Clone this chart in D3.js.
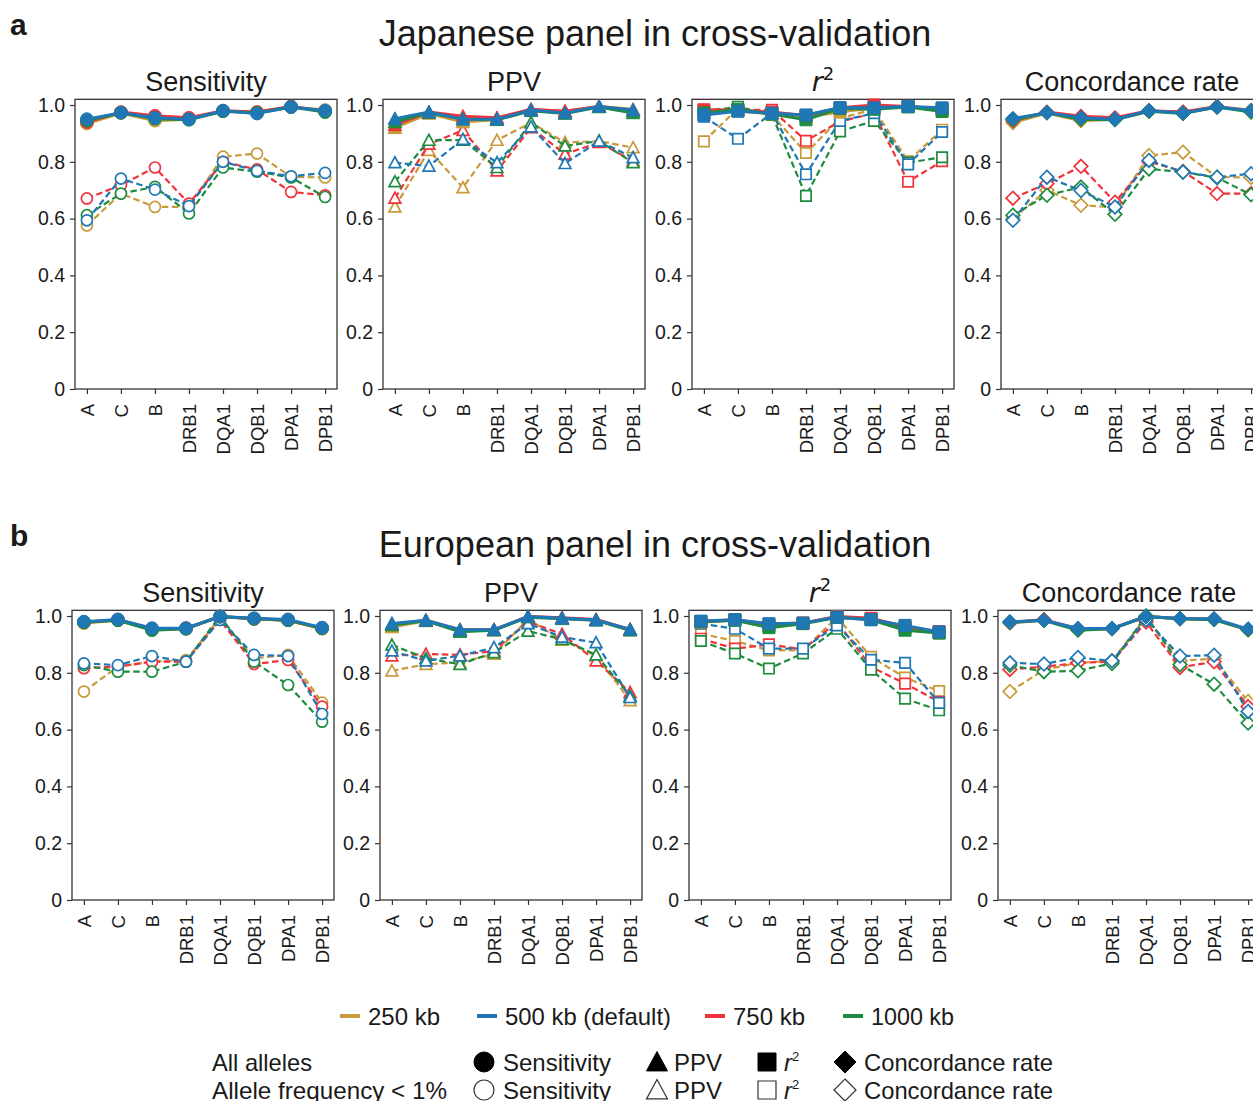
<!DOCTYPE html>
<html>
<head>
<meta charset="utf-8">
<script src="https://cdn.jsdelivr.net/npm/d3@7"></script>
<style>
  html, body { margin: 0; padding: 0; background: #fff; }
  svg { display: block; }
  text { font-family: "Liberation Sans", Arial, Helvetica, sans-serif; fill: #1a1a1a; }
</style>
</head>
<body>
<svg id="chart" width="1253" height="1101"></svg>
<script>
// ---- categories, series and labels ----
const categories = ["A", "C", "B", "DRB1", "DQA1", "DQB1", "DPA1", "DPB1"];
const windows = ["250 kb", "500 kb (default)", "750 kb", "1000 kb"];
const windowColors = ["#c99a3b", "#1f77b4", "#f2323a", "#1d8c3f"];
const yTickValues = [0, 0.2, 0.4, 0.6, 0.8, 1.0];
const metricNames = ["Sensitivity", "PPV", "r2", "Concordance rate"];
const sectionLetters = ["a", "b"];
const sectionTitles = ["Japanese panel in cross-validation", "European panel in cross-validation"];
const groupLabels = ["All alleles", "Allele frequency < 1%"];

// Each metric array: rows = 250 kb, 500 kb, 750 kb, 1000 kb; columns follow `categories`.
// Japanese panel, all alleles / alleles with frequency < 1%
const jpSensitivityAll = [
  [0.935, 0.972, 0.945, 0.950, 0.978, 0.975, 0.993, 0.982],
  [0.950, 0.973, 0.955, 0.950, 0.980, 0.970, 0.993, 0.980],
  [0.940, 0.975, 0.962, 0.955, 0.980, 0.975, 0.995, 0.978],
  [0.945, 0.973, 0.952, 0.948, 0.978, 0.972, 0.993, 0.975]];
const jpSensitivityRare = [
  [0.576, 0.688, 0.641, 0.641, 0.818, 0.829, 0.747, 0.745],
  [0.594, 0.741, 0.702, 0.644, 0.800, 0.768, 0.749, 0.761],
  [0.671, 0.718, 0.780, 0.653, 0.800, 0.773, 0.694, 0.682],
  [0.612, 0.688, 0.712, 0.618, 0.780, 0.765, 0.745, 0.676]];
const jpPpvAll = [
  [0.920, 0.970, 0.940, 0.948, 0.982, 0.978, 0.995, 0.985],
  [0.952, 0.975, 0.950, 0.950, 0.982, 0.972, 0.995, 0.982],
  [0.930, 0.975, 0.960, 0.955, 0.985, 0.978, 0.995, 0.980],
  [0.940, 0.973, 0.950, 0.948, 0.980, 0.970, 0.993, 0.972]];
const jpPpvRare = [
  [0.641, 0.840, 0.709, 0.876, 0.938, 0.868, 0.873, 0.850],
  [0.797, 0.785, 0.879, 0.797, 0.923, 0.794, 0.873, 0.815],
  [0.672, 0.862, 0.911, 0.768, 0.920, 0.827, 0.868, 0.803],
  [0.730, 0.876, 0.876, 0.780, 0.938, 0.856, 0.873, 0.797]];
const jpR2All = [
  [0.970, 0.980, 0.968, 0.958, 0.975, 0.990, 0.995, 0.985],
  [0.965, 0.978, 0.971, 0.965, 0.991, 0.990, 0.995, 0.990],
  [0.983, 0.982, 0.975, 0.962, 0.990, 1.000, 0.995, 0.985],
  [0.972, 0.985, 0.968, 0.948, 0.988, 0.985, 0.993, 0.977]];
const jpR2Rare = [
  [0.872, 0.988, 0.965, 0.831, 0.953, 0.985, 0.802, 0.913],
  [0.959, 0.881, 0.971, 0.756, 0.944, 0.971, 0.791, 0.905],
  [0.983, 0.983, 0.983, 0.874, 0.942, 0.971, 0.730, 0.802],
  [0.977, 0.994, 0.965, 0.680, 0.907, 0.944, 0.797, 0.816]];
const jpConcordanceAll = [
  [0.938, 0.972, 0.945, 0.950, 0.978, 0.975, 0.993, 0.982],
  [0.952, 0.973, 0.955, 0.950, 0.980, 0.972, 0.993, 0.980],
  [0.945, 0.975, 0.960, 0.955, 0.980, 0.975, 0.995, 0.978],
  [0.948, 0.973, 0.950, 0.948, 0.978, 0.970, 0.993, 0.975]];
const jpConcordanceRare = [
  [0.600, 0.700, 0.647, 0.640, 0.822, 0.834, 0.746, 0.745],
  [0.594, 0.746, 0.699, 0.641, 0.805, 0.764, 0.746, 0.758],
  [0.672, 0.723, 0.784, 0.658, 0.800, 0.766, 0.688, 0.688],
  [0.612, 0.682, 0.711, 0.615, 0.775, 0.764, 0.744, 0.684]];

// European panel
const euSensitivityAll = [
  [0.975, 0.985, 0.952, 0.955, 0.998, 0.990, 0.985, 0.955],
  [0.980, 0.988, 0.957, 0.957, 0.998, 0.992, 0.988, 0.959],
  [0.978, 0.987, 0.955, 0.957, 0.998, 0.990, 0.985, 0.957],
  [0.978, 0.985, 0.950, 0.955, 0.998, 0.990, 0.985, 0.957]];
const euSensitivityRare = [
  [0.734, 0.822, 0.839, 0.845, 0.992, 0.851, 0.863, 0.695],
  [0.833, 0.827, 0.859, 0.839, 0.986, 0.863, 0.859, 0.655],
  [0.816, 0.822, 0.839, 0.839, 0.986, 0.831, 0.845, 0.681],
  [0.827, 0.804, 0.804, 0.839, 1.000, 0.839, 0.757, 0.628]];
const euPpvAll = [
  [0.961, 0.983, 0.948, 0.950, 0.998, 0.992, 0.986, 0.950],
  [0.974, 0.985, 0.952, 0.952, 0.998, 0.992, 0.986, 0.953],
  [0.970, 0.985, 0.952, 0.952, 0.998, 0.994, 0.988, 0.953],
  [0.968, 0.983, 0.945, 0.950, 0.996, 0.990, 0.985, 0.950]];
const euPpvRare = [
  [0.807, 0.830, 0.836, 0.866, 0.988, 0.915, 0.860, 0.702],
  [0.877, 0.842, 0.860, 0.889, 0.973, 0.926, 0.906, 0.713],
  [0.860, 0.866, 0.863, 0.877, 0.980, 0.936, 0.842, 0.731],
  [0.898, 0.851, 0.830, 0.871, 0.947, 0.918, 0.863, 0.719]];
const euR2All = [
  [0.978, 0.985, 0.965, 0.975, 0.998, 0.990, 0.960, 0.940],
  [0.982, 0.987, 0.973, 0.975, 0.996, 0.987, 0.967, 0.944],
  [0.980, 0.987, 0.970, 0.975, 0.998, 0.992, 0.962, 0.945],
  [0.980, 0.985, 0.959, 0.973, 0.995, 0.987, 0.950, 0.940]];
const euR2Rare = [
  [0.938, 0.912, 0.879, 0.879, 0.996, 0.856, 0.783, 0.736],
  [0.973, 0.955, 0.885, 0.885, 0.967, 0.846, 0.835, 0.694],
  [0.920, 0.885, 0.900, 0.882, 0.979, 0.821, 0.762, 0.698],
  [0.912, 0.868, 0.815, 0.868, 0.955, 0.811, 0.709, 0.668]];
const euConcordanceAll = [
  [0.975, 0.985, 0.952, 0.955, 0.998, 0.990, 0.988, 0.950],
  [0.979, 0.985, 0.956, 0.956, 0.998, 0.991, 0.990, 0.954],
  [0.978, 0.987, 0.955, 0.956, 0.998, 0.991, 0.989, 0.953],
  [0.978, 0.985, 0.950, 0.955, 0.998, 0.990, 0.987, 0.952]];
const euConcordanceRare = [
  [0.734, 0.810, 0.835, 0.842, 0.996, 0.842, 0.850, 0.699],
  [0.835, 0.831, 0.854, 0.842, 0.987, 0.859, 0.862, 0.664],
  [0.812, 0.821, 0.835, 0.839, 0.979, 0.819, 0.839, 0.681],
  [0.827, 0.804, 0.807, 0.833, 1.000, 0.829, 0.760, 0.623]];

const sections = [
  { all: [jpSensitivityAll, jpPpvAll, jpR2All, jpConcordanceAll],
    rare: [jpSensitivityRare, jpPpvRare, jpR2Rare, jpConcordanceRare] },
  { all: [euSensitivityAll, euPpvAll, euR2All, euConcordanceAll],
    rare: [euSensitivityRare, euPpvRare, euR2Rare, euConcordanceRare] }
];

// ---- layout ----
const svg = d3.select("#chart");
const panelW = 262;
const unitH = 284;              // pixels per 1.0 on the y axis
const yMax = 1.02;
const rowLayout = [
  { bottom: 389, lefts: [75, 383, 692, 1001] },
  { bottom: 900, lefts: [72, 380, 689, 998] }
];
const seriesOrder = [0, 2, 3, 1];   // blue (default window) drawn last

// marker paths (size = half-width)
function markerPath(shape, s) {
  if (shape === 0) return d3.symbol(d3.symbolCircle, Math.PI * s * s)();
  if (shape === 1) return `M0,${-s}L${s},${s * 0.85}L${-s},${s * 0.85}Z`;
  if (shape === 2) return `M${-s},${-s}H${s}V${s}H${-s}Z`;
  return `M0,${-s}L${s},0L0,${s}L${-s},0Z`;
}
const filledSize = [6.4, 6.8, 6.0, 7.4];
const openSize = [5.5, 5.9, 5.2, 6.8];

sections.forEach((sec, si) => {
  const lay = rowLayout[si];
  const yOff = si * 511;
  const top = lay.bottom - yMax * unitH;

  svg.append("text")
    .attr("x", 10).attr("y", 35 + yOff)
    .attr("font-size", 30).attr("font-weight", "bold")
    .text(sectionLetters[si]);
  svg.append("text")
    .attr("x", 655).attr("y", 46 + yOff)
    .attr("text-anchor", "middle").attr("font-size", 36)
    .text(sectionTitles[si]);

  for (let m = 0; m < 4; m++) {
    const left = lay.lefts[m];
    const x = d3.scalePoint().domain(categories).range([left, left + panelW]).padding(0.35);
    const y = d3.scaleLinear().domain([0, yMax]).range([lay.bottom, top]);
    const g = svg.append("g");

    // panel title
    const t = g.append("text")
      .attr("x", left + panelW / 2).attr("y", top - 8)
      .attr("text-anchor", "middle").attr("font-size", 27);
    if (metricNames[m] === "r2") {
      t.append("tspan").attr("font-style", "italic").attr("font-family", "DejaVu Sans").attr("font-size", 27).text("r");
      t.append("tspan").attr("dy", -11).attr("font-size", 18).attr("font-family", "DejaVu Sans").text("2");
    } else {
      t.text(metricNames[m]);
    }

    // axes
    const yAxis = d3.axisLeft(y).tickValues(yTickValues).tickSize(5).tickPadding(5)
      .tickFormat(d => d === 0 ? "0" : d3.format(".1f")(d));
    const ya = g.append("g").attr("transform", `translate(${left},0)`).call(yAxis);
    ya.select(".domain").remove();
    ya.selectAll("text").attr("font-size", 19.5).attr("fill", "#1a1a1a")
      .attr("font-family", "Liberation Sans, Arial, sans-serif");
    ya.selectAll("line").attr("stroke", "#333").attr("stroke-width", 1.2);

    const xAxis = d3.axisBottom(x).tickSize(5).tickPadding(0);
    const xa = g.append("g").attr("transform", `translate(0,${lay.bottom})`).call(xAxis);
    xa.select(".domain").remove();
    xa.selectAll("line").attr("stroke", "#333").attr("stroke-width", 1.2);
    xa.selectAll("text")
      .attr("transform", "rotate(-90)")
      .attr("x", -15).attr("y", 0).attr("dy", "0.35em")
      .attr("text-anchor", "end")
      .attr("font-size", 18.5).attr("fill", "#1a1a1a")
      .attr("font-family", "Liberation Sans, Arial, sans-serif");

    // frame
    g.append("rect")
      .attr("x", left).attr("y", top)
      .attr("width", panelW).attr("height", lay.bottom - top)
      .attr("fill", "none").attr("stroke", "#333").attr("stroke-width", 1.3);

    const line = d3.line().x((d, i) => x(categories[i])).y(d => y(d));

    // rare alleles: dashed lines with open markers
    seriesOrder.forEach(w => {
      const vals = sec.rare[m][w];
      const c = windowColors[w];
      g.append("path").datum(vals).attr("d", line)
        .attr("fill", "none").attr("stroke", c).attr("stroke-width", 2.2)
        .attr("stroke-dasharray", "6.5,3.5");
      g.selectAll(null).data(vals).enter().append("path")
        .attr("transform", (d, i) => `translate(${x(categories[i])},${y(d)})`)
        .attr("d", markerPath(m, openSize[m]))
        .attr("fill", "#fff").attr("stroke", c).attr("stroke-width", 1.7);
    });

    // all alleles: solid lines with filled markers
    seriesOrder.forEach(w => {
      const vals = sec.all[m][w];
      const c = windowColors[w];
      g.append("path").datum(vals).attr("d", line)
        .attr("fill", "none").attr("stroke", c).attr("stroke-width", 3);
      g.selectAll(null).data(vals).enter().append("path")
        .attr("transform", (d, i) => `translate(${x(categories[i])},${y(d)})`)
        .attr("d", markerPath(m, filledSize[m]))
        .attr("fill", c).attr("stroke", c).attr("stroke-width", 1);
    });
  }
});

// ---- legend ----
const legend = svg.append("g");
const swatchX = [340, 477, 705, 843];
const swatchTextW = [72, 166, 72, 83];
windows.forEach((w, i) => {
  legend.append("rect").attr("x", swatchX[i]).attr("y", 1014)
    .attr("width", 20).attr("height", 4).attr("fill", windowColors[i]);
  legend.append("text").attr("x", swatchX[i] + 28).attr("y", 1025)
    .attr("font-size", 24).attr("textLength", swatchTextW[i]).attr("lengthAdjust", "spacingAndGlyphs")
    .text(w);
});

const groupY = [1062, 1090];
const groupW = [100, 235];
const symX = [484, 657, 767, 845];
const symLabelX = [503, 674, 784, 864];
const symLabelW = [108, 48, 0, 189];
const legendSym = [10, 10.5, 9, 11];
groupLabels.forEach((lbl, gi) => {
  const cy = groupY[gi];
  legend.append("text").attr("x", 212).attr("y", cy + 9)
    .attr("font-size", 24).attr("textLength", groupW[gi]).attr("lengthAdjust", "spacingAndGlyphs")
    .text(lbl);
  for (let m = 0; m < 4; m++) {
    legend.append("path")
      .attr("transform", `translate(${symX[m]},${cy})`)
      .attr("d", markerPath(m, legendSym[m]))
      .attr("fill", gi === 0 ? "#000" : "#fff")
      .attr("stroke", gi === 0 ? "#000" : "#333")
      .attr("stroke-width", gi === 0 ? 1 : 1.2);
    const t = legend.append("text").attr("x", symLabelX[m]).attr("y", cy + 9).attr("font-size", 24);
    if (metricNames[m] === "r2") {
      t.append("tspan").attr("font-style", "italic").text("r");
      t.append("tspan").attr("dy", -10).attr("font-size", 13).text("2");
    } else {
      t.attr("textLength", symLabelW[m]).attr("lengthAdjust", "spacingAndGlyphs").text(metricNames[m]);
    }
  }
});
</script>
</body>
</html>
